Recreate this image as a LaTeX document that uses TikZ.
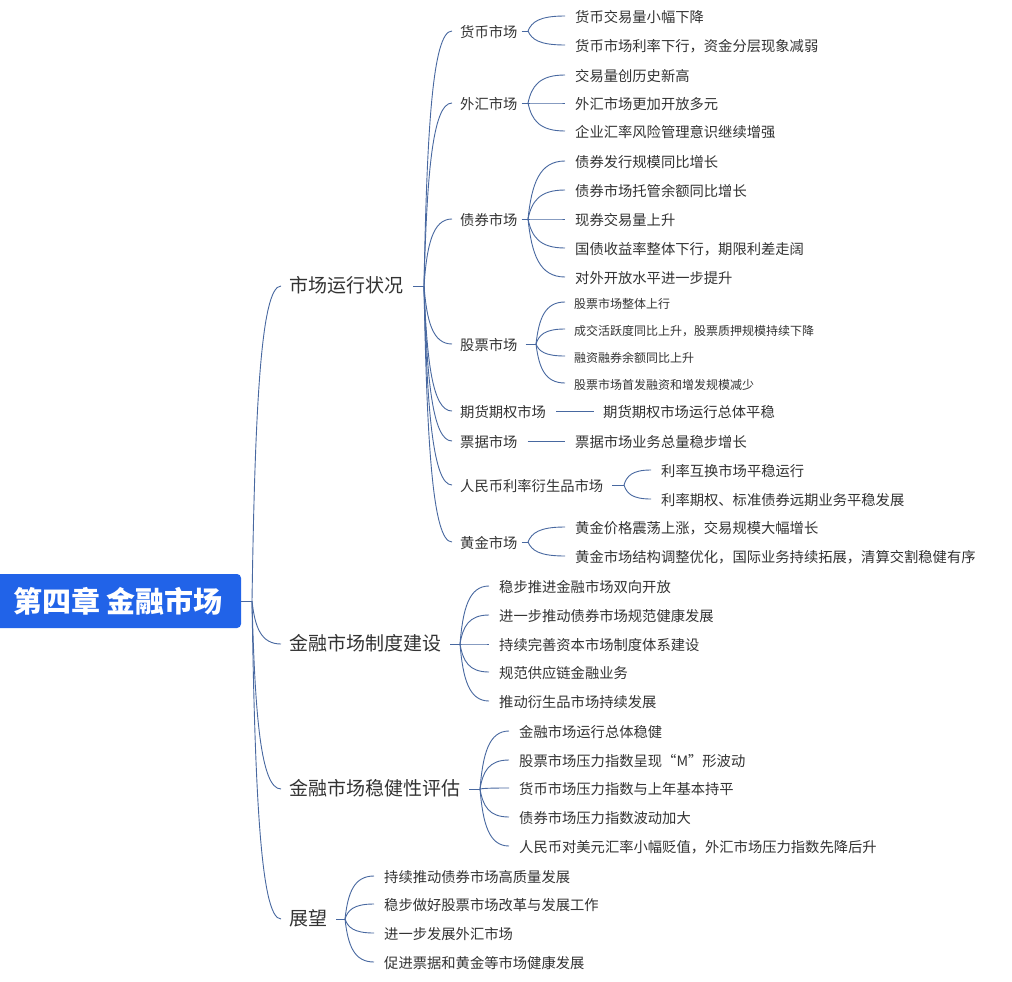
\documentclass[tikz,border=0pt]{standalone}
\usepackage{fontspec}
\setmainfont{Noto Sans CJK SC}
\usetikzlibrary{calc}
\definecolor{txtc}{RGB}{51,51,51}
\definecolor{linkc}{RGB}{72,104,160}
\definecolor{rootc}{RGB}{33,99,232}
\newcommand\mmconn[3]{\draw[link] let \p1=(#1), \p2=([xshift=-#3pt]#2.west) in (\p1) .. controls ({\x1+0.1*(\x2-\x1)},{\y1+0.6*(\y2-\y1)}) and ({\x1+0.3*(\x2-\x1)},{\y2}) .. (\p2);}
\tikzset{
  txt/.style={anchor=west, inner sep=0pt, text height=1.34em, text depth=0.12em, text=txtc},
  lone/.style={txt, font=\fontsize{19}{19}\selectfont},
  ltwo/.style={txt, font=\fontsize{14.3}{14.3}\selectfont},
  lthree/.style={txt, font=\fontsize{14.3}{14.3}\selectfont},
  lsmall/.style={txt, font=\fontsize{12}{12}\selectfont},
  link/.style={draw=linkc, line width=0.9pt},
  rootbox/.style={fill=rootc, rounded corners=4pt, minimum width=246pt, minimum height=54pt, inner sep=0pt, text=white, font=\fontsize{29}{29}\selectfont\bfseries},
}
\begin{document}
\begin{tikzpicture}[x=1pt,y=-1pt]
\useasboundingbox[fill=white] (0,0) rectangle (1012,982);
% root
\node[rootbox] (root) at (118,601) {\raisebox{-2pt}{第四章 金融市场}};
\coordinate (rj) at (252,601);
\draw[link] (root.east) -- (rj);
% level 1
\node[lone] (a) at (289,286) {市场运行状况};
\node[lone] (b) at (289,644) {金融市场制度建设};
\node[lone] (c) at (289,789) {金融市场稳健性评估};
\node[lone] (d) at (289,919) {展望};
\foreach \k in {a,b,c,d} {\mmconn{rj}{\k}{8}}
% junctions of level 1
\coordinate (aj) at (424,286);
\coordinate (bj) at (460,644);
\coordinate (cj) at (480,789);
\coordinate (dj) at (345,919);
\draw[link] ([xshift=10pt]a.east) -- (aj);
\draw[link] ([xshift=9pt]b.east) -- (bj);
\draw[link] ([xshift=9pt]c.east) -- (cj);
\draw[link] ([xshift=9pt]d.east) -- (dj);
% level 2 under a
\node[ltwo] (a1) at (460,31) {货币市场};
\node[ltwo] (a2) at (460,103) {外汇市场};
\node[ltwo] (a3) at (460,219) {债券市场};
\node[ltwo] (a4) at (460,344) {股票市场};
\node[ltwo] (a5) at (460,411) {期货期权市场};
\node[ltwo] (a6) at (460,441) {票据市场};
\node[ltwo] (a7) at (460,485) {人民币利率衍生品市场};
\node[ltwo] (a8) at (460,542) {黄金市场};
\foreach \k in {a1,a2,a3,a4,a5,a6,a7,a8} {\mmconn{aj}{\k}{8}}
% level 3
\coordinate (a1j) at (528,31);
\draw[link] ([xshift=4pt]a1.east) -- (a1j);
\node[lthree] (a11) at (575,16) {货币交易量小幅下降};
\node[lthree] (a12) at (575,45) {货币市场利率下行，资金分层现象减弱};
\foreach \k in {a11,a12} {\mmconn{a1j}{\k}{10}}
\coordinate (a2j) at (528,103);
\draw[link] ([xshift=4pt]a2.east) -- (a2j);
\node[lthree] (a21) at (575,75) {交易量创历史新高};
\node[lthree] (a22) at (575,103) {外汇市场更加开放多元};
\node[lthree] (a23) at (575,131) {企业汇率风险管理意识继续增强};
\foreach \k in {a21,a22,a23} {\mmconn{a2j}{\k}{10}}
\coordinate (a3j) at (528,219);
\draw[link] ([xshift=4pt]a3.east) -- (a3j);
\node[lthree] (a31) at (575,161) {债券发行规模同比增长};
\node[lthree] (a32) at (575,190) {债券市场托管余额同比增长};
\node[lthree] (a33) at (575,219) {现券交易量上升};
\node[lthree] (a34) at (575,248) {国债收益率整体下行，期限利差走阔};
\node[lthree] (a35) at (575,277) {对外开放水平进一步提升};
\foreach \k in {a31,a32,a33,a34,a35} {\mmconn{a3j}{\k}{10}}
\coordinate (a4j) at (536,344);
\draw[link] ([xshift=8pt]a4.east) -- (a4j);
\node[lsmall] (a41) at (574,302) {股票市场整体上行};
\node[lsmall] (a42) at (574,329) {成交活跃度同比上升，股票质押规模持续下降};
\node[lsmall] (a43) at (574,356) {融资融券余额同比上升};
\node[lsmall] (a44) at (574,383) {股票市场首发融资和增发规模减少};
\foreach \k in {a41,a42,a43,a44} {\mmconn{a4j}{\k}{9}}
\node[lthree] (a51) at (603,411) {期货期权市场运行总体平稳};
\draw[link] ([xshift=10pt]a5.east) -- ([xshift=-9pt]a51.west);
\node[lthree] (a61) at (575,441) {票据市场业务总量稳步增长};
\draw[link] ([xshift=10pt]a6.east) -- ([xshift=-10pt]a61.west);
\coordinate (a7j) at (624,485);
\draw[link] ([xshift=9pt]a7.east) -- (a7j);
\node[lthree] (a71) at (661,470) {利率互换市场平稳运行};
\node[lthree] (a72) at (661,499) {利率期权、标准债券远期业务平稳发展};
\foreach \k in {a71,a72} {\mmconn{a7j}{\k}{10}}
\coordinate (a8j) at (528,542);
\draw[link] ([xshift=4pt]a8.east) -- (a8j);
\node[lthree] (a81) at (575,527) {黄金价格震荡上涨，交易规模大幅增长};
\node[lthree] (a82) at (575,556) {黄金市场结构调整优化，国际业务持续拓展，清算交割稳健有序};
\foreach \k in {a81,a82} {\mmconn{a8j}{\k}{10}}
% under b
\node[lthree] (b1) at (499,586) {稳步推进金融市场双向开放};
\node[lthree] (b2) at (499,615) {进一步推动债券市场规范健康发展};
\node[lthree] (b3) at (499,644) {持续完善资本市场制度体系建设};
\node[lthree] (b4) at (499,672) {规范供应链金融业务};
\node[lthree] (b5) at (499,701) {推动衍生品市场持续发展};
\foreach \k in {b1,b2,b3,b4,b5} {\mmconn{bj}{\k}{10}}
% under c
\node[lthree] (c1) at (519,731) {金融市场运行总体稳健};
\node[lthree] (c2) at (519,760) {股票市场压力指数呈现“M”形波动};
\node[lthree] (c3) at (519,788) {货币市场压力指数与上年基本持平};
\node[lthree] (c4) at (519,817) {债券市场压力指数波动加大};
\node[lthree] (c5) at (519,846) {人民币对美元汇率小幅贬值，外汇市场压力指数先降后升};
\foreach \k in {c1,c2,c3,c4,c5} {\mmconn{cj}{\k}{10}}
% under d
\node[lthree] (d1) at (384,876) {持续推动债券市场高质量发展};
\node[lthree] (d2) at (384,904) {稳步做好股票市场改革与发展工作};
\node[lthree] (d3) at (384,933) {进一步发展外汇市场};
\node[lthree] (d4) at (384,962) {促进票据和黄金等市场健康发展};
\foreach \k in {d1,d2,d3,d4} {\mmconn{dj}{\k}{10}}
\end{tikzpicture}
\end{document}
